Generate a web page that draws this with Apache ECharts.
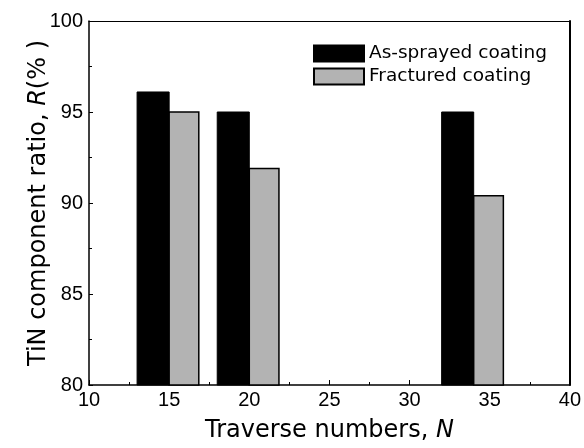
<!DOCTYPE html>
<html>
<head>
<meta charset="utf-8">
<script src="https://cdn.jsdelivr.net/npm/echarts@6/dist/echarts.min.js"></script>
<style>
html,body{margin:0;padding:0;background:#fff;}
#c{width:584px;height:448px;}
</style>
</head>
<body>
<div id="c"></div>
<script>
// Data
const traverseNumbers = [15, 20, 34];
const asSprayed = [96.1, 95.0, 95.0];
const fractured = [95.0, 91.9, 90.4];
const xTicks = [10, 15, 20, 25, 30, 35, 40];
const yTicks = [80, 85, 90, 95, 100];

const FONT = '"Liberation Sans", Arial, sans-serif';
const TFONT = '"DejaVu Sans", sans-serif';
const chart = echarts.init(document.getElementById('c'), null, {renderer: 'canvas'});

function makeRender(offFrom, offTo) {
  return function (params, api) {
    const x = api.value(0), y = api.value(1);
    const p1 = api.coord([x + offFrom, y]);
    const p2 = api.coord([x + offTo, 80]);
    return {
      type: 'rect',
      shape: {x: p1[0], y: p1[1], width: p2[0] - p1[0], height: p2[1] - p1[1]},
      style: api.style()
    };
  };
}

const axisLabelStyle = {fontFamily: FONT, fontSize: 20, color: '#000'};

chart.setOption({
  animation: false,
  backgroundColor: '#fff',
  grid: {left: 89, right: 12, top: 21, bottom: 63},
  legend: {
    orient: 'vertical',
    left: 313, top: 44, padding: 0,
    itemWidth: 50, itemHeight: 16, itemGap: 4,
    icon: 'rect',
    textStyle: {fontFamily: TFONT, fontSize: 18.5, color: '#000'},
    data: ['As-sprayed coating', 'Fractured coating']
  },
  xAxis: [{
    type: 'value', min: xTicks[0], max: xTicks[xTicks.length - 1], interval: 5,
    position: 'bottom',
    name: 'Traverse numbers, {i|N}',
    nameLocation: 'middle', nameGap: 34, nameMoveOverlap: false,
    nameTextStyle: {fontFamily: TFONT, fontSize: 24, color: '#000',
      rich: {i: {fontFamily: TFONT, fontSize: 24, fontStyle: 'italic', color: '#000'}}},
    axisLine: {show: true, lineStyle: {color: '#000', width: 1.5}},
    axisTick: {show: true, inside: true, length: 5, lineStyle: {color: '#000', width: 1}},
    minorTick: {show: true, splitNumber: 2, length: 3, lineStyle: {color: '#000'}},
    axisLabel: Object.assign({margin: 5}, axisLabelStyle),
    splitLine: {show: false}
  }, {
    type: 'value', min: 10, max: 40, position: 'top',
    axisLine: {show: true, onZero: false, lineStyle: {color: '#000', width: 1.2}},
    axisTick: {show: false}, axisLabel: {show: false}, splitLine: {show: false}
  }],
  yAxis: [{
    type: 'value', min: yTicks[0], max: yTicks[yTicks.length - 1], interval: 5,
    position: 'left',
    name: 'TiN component ratio, {i|R}(% )',
    nameLocation: 'middle', nameGap: 38, nameRotate: 90, nameMoveOverlap: false,
    nameTextStyle: {fontFamily: TFONT, fontSize: 24, color: '#000',
      rich: {i: {fontFamily: TFONT, fontSize: 24, fontStyle: 'italic', color: '#000'}}},
    axisLine: {show: true, lineStyle: {color: '#000', width: 1.5}},
    axisTick: {show: true, inside: true, length: 4, lineStyle: {color: '#000', width: 1}},
    minorTick: {show: true, splitNumber: 2, length: 3, lineStyle: {color: '#000'}},
    axisLabel: Object.assign({margin: 6}, axisLabelStyle),
    splitLine: {show: false}
  }, {
    type: 'value', min: 80, max: 100, position: 'right',
    axisLine: {show: true, onZero: false, lineStyle: {color: '#000', width: 2}},
    axisTick: {show: false}, axisLabel: {show: false}, splitLine: {show: false}
  }],
  series: [{
    name: 'As-sprayed coating',
    type: 'custom',
    renderItem: makeRender(-2, 0),
    itemStyle: {color: '#000', borderColor: '#000', borderWidth: 1},
    data: traverseNumbers.map((n, i) => [n, asSprayed[i]]),
    encode: {x: 0, y: 1}
  }, {
    name: 'Fractured coating',
    type: 'custom',
    renderItem: makeRender(0, 1.85),
    itemStyle: {color: '#b3b3b3', borderColor: '#000', borderWidth: 1.5},
    data: traverseNumbers.map((n, i) => [n, fractured[i]]),
    encode: {x: 0, y: 1}
  }]
});
</script>
</body>
</html>
